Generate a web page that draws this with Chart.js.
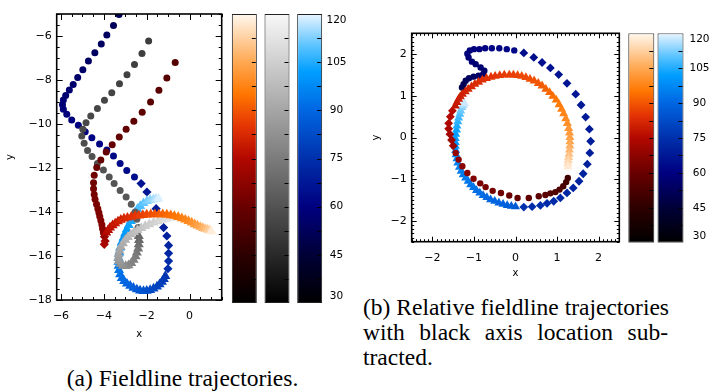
<!DOCTYPE html>
<html>
<head>
<meta charset="utf-8">
<script src="https://cdn.jsdelivr.net/npm/chart.js@4.4.1/dist/chart.umd.min.js"></script>
<style>
body { margin: 0; background: #fff; }
#wrap { position: relative; width: 726px; height: 391px; overflow: hidden; background: #fff; }
canvas { position: absolute; }
.cap { position: absolute; font-family: "Liberation Serif", "Times New Roman", serif; font-size: 23.5px; line-height: 25px; color: #000; white-space: nowrap; }
</style>
</head>
<body>
<div id="wrap">
  <canvas id="plotA" width="230" height="344" style="left:0px;top:0px"></canvas>
  <canvas id="cbarA" width="140" height="320" style="left:220px;top:0px"></canvas>
  <canvas id="plotB" width="262" height="283" style="left:366px;top:0px"></canvas>
  <canvas id="cbarB" width="106" height="260" style="left:620px;top:0px"></canvas>
  <div class="cap" style="left:66.7px;top:366px">(a) Fieldline trajectories.</div>
  <div class="cap" style="left:363px;top:295px">(b) Relative fieldline trajectories</div>
  <div class="cap" style="left:363px;top:320px;width:305px;white-space:normal;text-align:justify;text-align-last:justify">with black axis location sub-</div>
  <div class="cap" style="left:363px;top:345px">tracted.</div>
</div>
<script>
Chart.defaults.font.family = '"DejaVu Sans", sans-serif';
Chart.defaults.color = '#000';
Chart.defaults.animation = false;

// axis ticks
const xTicksA = [-6, -4, -2, 0];
const yTicksA = [-18, -16, -14, -12, -10, -8, -6];
const xTicksB = [-2, -1, 0, 1, 2];
const yTicksB = [-2, -1, 0, 1, 2];
const cbarTicks = [30, 45, 60, 75, 90, 105, 120];
const cbarRange = [30, 120];
const cbarMinor = 7.5;

// (a) trajectories: [x, y, time]
const redA_circ = [[-0.67,-7.21,55],[-1.06,-7.91,55.5],[-1.43,-8.47,56],[-1.82,-9.00,56.5],[-2.21,-9.47,57],
  [-2.60,-9.88,57.5],[-2.96,-10.24,58],[-3.28,-10.59,58.5],[-3.61,-10.94,59],[-3.89,-11.27,59.5],
  [-4.14,-11.64,60],[-4.33,-11.98,60.5],[-4.45,-12.33,61],[-4.48,-12.67,61.5],[-4.48,-12.94,62],
  [-4.45,-13.20,62.5],[-4.41,-13.42,63],[-4.34,-13.65,63.5],[-4.28,-13.85,64],[-4.23,-14.03,64.5],
  [-4.19,-14.21,65],[-4.14,-14.39,65.5],[-4.09,-14.58,66],[-4.06,-14.76,66.5],[-4.02,-14.94,67]];
const redA_diam = [[-3.97,-15.12,69],[-3.94,-15.32,71],[-3.98,-15.47,73]];
const redA_tri = [[-3.89,-14.94,75],[-3.80,-14.82,76],[-3.71,-14.71,77],[-3.59,-14.61,78],[-3.47,-14.52,79],
  [-3.34,-14.43,80],[-3.21,-14.36,81],[-3.06,-14.30,82],[-2.90,-14.26,83],[-2.72,-14.22,84],
  [-2.54,-14.18,85],[-2.36,-14.16,86],[-2.18,-14.14,87],[-2.00,-14.12,88],[-1.81,-14.11,89],
  [-1.62,-14.11,90],[-1.43,-14.11,91],[-1.25,-14.11,92],[-1.06,-14.12,93],[-0.88,-14.15,94],
  [-0.71,-14.18,95],[-0.53,-14.23,96],[-0.36,-14.29,97],[-0.20,-14.35,98],[-0.05,-14.41,99],
  [0.10,-14.48,100.5],[0.24,-14.56,102],[0.37,-14.62,103.5],[0.50,-14.68,105],[0.62,-14.73,107],
  [0.73,-14.77,109],[0.84,-14.80,111],[0.94,-14.83,113],[1.01,-14.88,118]];

const greyA_circ = [[-1.91,-6.23,52],[-2.22,-6.79,52.5],[-2.57,-7.29,53],[-2.92,-7.76,53.5],[-3.27,-8.17,54],
  [-3.63,-8.58,54.5],[-3.97,-8.92,55],[-4.30,-9.29,55.5],[-4.61,-9.64,56],[-4.83,-9.94,56.5],
  [-4.98,-10.24,57],[-5.03,-10.55,57.5],[-4.92,-10.88,58],[-4.76,-11.20,58.5],[-4.55,-11.48,59],
  [-4.30,-11.79,59.5],[-4.02,-12.09,60],[-3.75,-12.41,60.5],[-3.52,-12.70,61],[-3.24,-13.02,61.5],
  [-2.96,-13.32,62],[-2.72,-13.65,62.5],[-2.54,-14.00,63],[-2.46,-14.33,63.5],[-2.40,-14.71,64]];
const greyA_tri = [[-2.37,-15.09,67],[-2.36,-15.28,68.5],[-2.37,-15.47,70],[-2.40,-15.66,71.5],[-2.46,-15.85,73],
  [-2.52,-16.02,74.5],[-2.61,-16.18,76],[-2.72,-16.32,77.5],[-2.85,-16.42,79],[-2.98,-16.46,80.5],
  [-3.11,-16.45,82],[-3.22,-16.36,83.5],[-3.30,-16.23,85],[-3.33,-16.08,86.5],[-3.31,-15.92,88],
  [-3.27,-15.75,89.5],[-3.21,-15.58,91],[-3.11,-15.42,92.5],[-3.00,-15.27,94],[-2.88,-15.14,95.5],
  [-2.74,-15.02,97],[-2.59,-14.91,98.5],[-2.43,-14.82,100],[-2.25,-14.73,101.5],[-2.07,-14.64,103],
  [-1.88,-14.56,104.5],[-1.68,-14.48,106],[-1.48,-14.42,107.5],[-1.29,-14.36,109],[-1.10,-14.31,110.5],
  [-0.90,-14.27,112],[-0.70,-14.24,113.5],[-0.51,-14.21,115]];

const blueA_circ = [[-3.29,-5.02,52],[-3.55,-5.52,52.5],[-3.86,-5.95,53],[-4.12,-6.36,53.5],[-4.42,-6.76,54],
  [-4.72,-7.14,54.5],[-4.98,-7.53,55],[-5.22,-7.89,55.5],[-5.43,-8.20,56],[-5.61,-8.45,56.5],
  [-5.78,-8.70,57],[-5.89,-8.91,57.5],[-5.93,-9.12,58],[-5.89,-9.33,58.5],[-5.73,-9.56,59],
  [-5.50,-9.82,59.5],[-5.19,-10.06,60],[-4.87,-10.35,60.5],[-4.56,-10.62,61],[-4.20,-10.91,61.5],
  [-3.86,-11.18,62],[-3.55,-11.45,62.5],[-3.24,-11.79,63],[-2.93,-12.11,63.5],[-2.57,-12.41,64]];
const blueA_diam = [[-2.26,-12.71,66],[-1.99,-13.09,67],[-1.56,-13.85,68],[-1.21,-14.71,69],[-1.06,-15.09,70],
  [-0.98,-15.52,71],[-0.98,-15.88,72],[-0.98,-16.23,73],[-1.01,-16.58,74]];
const blueA_tri = [[-1.13,-16.91,76],[-1.20,-17.05,77],[-1.29,-17.18,78],[-1.40,-17.29,79],[-1.52,-17.39,80],
  [-1.68,-17.48,81],[-1.84,-17.55,82],[-2.00,-17.58,83],[-2.15,-17.59,84],[-2.31,-17.57,85],
  [-2.46,-17.52,86],[-2.62,-17.45,87],[-2.77,-17.36,88],[-2.92,-17.26,89],[-3.05,-17.14,90],
  [-3.16,-17.00,91],[-3.24,-16.83,92],[-3.29,-16.64,93],[-3.31,-16.45,94],[-3.32,-16.27,95],
  [-3.31,-16.08,96],[-3.28,-15.85,97],[-3.24,-15.62,98],[-3.17,-15.39,99],[-3.08,-15.17,100],
  [-3.01,-14.98,101],[-2.93,-14.79,102],[-2.84,-14.60,103],[-2.74,-14.41,104],[-2.64,-14.22,105],
  [-2.54,-14.03,106],[-2.43,-13.87,107.5],[-2.30,-13.73,109],[-2.15,-13.60,110.5],[-1.99,-13.50,112],
  [-1.84,-13.45,113.5],[-1.68,-13.42,115],[-1.56,-13.40,117],[-1.45,-13.39,119]];

// (b) trajectories relative to the black axis: [x, y, time]
const redB_circ = [[1.26,-0.97,50],[1.22,-1.07,51],[1.15,-1.17,52],[1.06,-1.25,53],[0.96,-1.31,54],
  [0.84,-1.34,55],[0.72,-1.38,56],[0.56,-1.41,57],[0.32,-1.45,58],[0.05,-1.45,59],
  [-0.15,-1.39,60],[-0.35,-1.33,61],[-0.55,-1.28,62],[-0.72,-1.19,63],[-0.85,-1.10,64],
  [-1.01,-0.99,65],[-1.16,-0.85,66],[-1.28,-0.69,67],[-1.37,-0.53,68],[-1.44,-0.37,69]];
const redB_diam = [[-1.50,-0.20,70],[-1.54,-0.06,71],[-1.58,0.08,72],[-1.61,0.21,73],[-1.61,0.34,74],
  [-1.57,0.50,75],[-1.52,0.64,76]];
const redB_tri = [[-1.45,0.76,78],[-1.41,0.84,79],[-1.37,0.92,79.5],[-1.33,0.98,80],[-1.28,1.04,80.5],
  [-1.21,1.10,81],[-1.14,1.16,81.5],[-1.06,1.22,82],[-0.98,1.28,82.5],[-0.89,1.33,83],
  [-0.80,1.38,83.5],[-0.70,1.42,84],[-0.59,1.45,84.5],[-0.49,1.47,85],[-0.38,1.49,85.5],
  [-0.27,1.50,86],[-0.15,1.50,86.5],[-0.05,1.50,87],[0.05,1.49,87.5],[0.15,1.47,88],
  [0.25,1.44,88.5],[0.35,1.40,89],[0.45,1.36,89.5],[0.55,1.30,90],[0.64,1.24,91],
  [0.73,1.16,92],[0.82,1.08,93],[0.90,0.99,94],[0.98,0.90,95],[1.05,0.79,96],
  [1.11,0.68,97],[1.16,0.57,98],[1.21,0.45,99],[1.25,0.34,100],[1.28,0.22,101],
  [1.30,0.11,102],[1.31,0.00,103],[1.31,-0.10,104.5],[1.31,-0.20,106],[1.30,-0.30,107.5],
  [1.29,-0.40,109],[1.28,-0.48,111],[1.27,-0.55,113],[1.26,-0.63,115],[1.26,-0.70,117]];

const blueB_circ = [[-1.29,1.20,50],[-1.25,1.28,51],[-1.20,1.36,52],[-1.12,1.42,53],[-1.01,1.46,54],
  [-0.89,1.48,55],[-0.78,1.52,55.5],[-0.75,1.60,56],[-0.84,1.68,56.5],[-0.96,1.76,57],
  [-1.05,1.82,57.5],[-1.13,1.92,58],[-1.16,2.01,58.5],[-1.10,2.09,59],[-1.00,2.12,59.5],
  [-0.87,2.12,60],[-0.73,2.14,60.5],[-0.57,2.14,61],[-0.39,2.14,61.5],[-0.21,2.12,62],[-0.03,2.09,62.5]];
const blueB_diam = [[0.20,2.03,64],[0.44,1.92,64.5],[0.64,1.80,65],[0.84,1.67,65.5],[1.04,1.51,66],
  [1.24,1.30,66.5],[1.45,1.04,67],[1.58,0.78,67.5],[1.69,0.49,68],[1.78,0.20,68.5],[1.81,-0.09,69],
  [1.79,-0.37,69.5],[1.73,-0.64,70],[1.63,-0.87,70.5],[1.53,-1.05,71],[1.39,-1.21,71.5],[1.24,-1.33,72],
  [1.08,-1.45,72.5],[0.92,-1.53,73],[0.76,-1.58,73.5],[0.60,-1.63,74],[0.40,-1.66,74.5],[0.20,-1.67,75]];
const blueB_tri = [[0.00,-1.66,86],[-0.10,-1.65,87],[-0.20,-1.63,88],[-0.30,-1.60,88.5],[-0.40,-1.57,89],
  [-0.50,-1.53,89.5],[-0.60,-1.49,90],[-0.69,-1.44,90.5],[-0.78,-1.39,91],[-0.86,-1.33,91.5],
  [-0.94,-1.27,92],[-1.01,-1.20,92.5],[-1.08,-1.13,93],[-1.14,-1.05,93.5],[-1.20,-0.97,94],
  [-1.26,-0.89,94.5],[-1.31,-0.81,95],[-1.35,-0.71,95.5],[-1.39,-0.61,96],[-1.41,-0.51,96.5],
  [-1.43,-0.41,97],[-1.44,-0.31,98],[-1.45,-0.21,99],[-1.45,-0.12,100],[-1.45,-0.02,101],
  [-1.44,0.08,102],[-1.42,0.18,103],[-1.41,0.28,104.5],[-1.39,0.38,106],[-1.37,0.47,107.5],
  [-1.34,0.56,109],[-1.32,0.64,111],[-1.29,0.72,113],[-1.26,0.77,115.5],[-1.23,0.82,118]];

// colour tables: [value, r, g, b]
const cmapOrange = [[30,0,0,0],[45,45,0,0],[60,105,0,0],[75,178,8,0],[85,228,52,4],[95,255,118,0],[105,255,168,82],[120,255,248,238]];
const cmapGrey = [[30,0,0,0],[120,248,248,248]];
const cmapBlue = [[30,0,0,0],[45,0,0,55],[60,0,0,128],[75,0,48,172],[90,0,102,226],[102,0,158,255],[110,90,195,255],[120,232,244,255]];

function cmapColor(cmap, t) {
  if (t <= cmap[0][0]) return 'rgb(' + cmap[0].slice(1).join(',') + ')';
  for (let i = 1; i < cmap.length; i++) {
    const a = cmap[i - 1], b = cmap[i];
    if (t <= b[0]) {
      const f = (t - a[0]) / (b[0] - a[0]);
      const c = [1, 2, 3].map(k => Math.round(a[k] + (b[k] - a[k]) * f));
      return 'rgb(' + c.join(',') + ')';
    }
  }
  return 'rgb(' + cmap[cmap.length - 1].slice(1).join(',') + ')';
}

function buildTrack(circ, diam, tri) {
  const pts = [];
  circ.forEach(p => pts.push({x: p[0], y: p[1], t: p[2], m: 'circle'}));
  diam.forEach(p => pts.push({x: p[0], y: p[1], t: p[2], m: 'rectRot'}));
  tri.forEach(p => pts.push({x: p[0], y: p[1], t: p[2], m: 'triangle'}));
  return pts;
}

function trackSet(pts, cmap, sizes) {
  return {
    data: pts,
    showLine: false,
    clip: 0,
    pointStyle: c => c.raw ? c.raw.m : 'circle',
    pointRadius: c => c.raw ? sizes[c.raw.m] : 3,
    pointHoverRadius: c => c.raw ? sizes[c.raw.m] : 3,
    pointBackgroundColor: c => c.raw ? cmapColor(cmap, c.raw.t) : '#000',
    pointBorderWidth: 0
  };
}

const fmtTick = v => (v < 0 ? '\u2212' : '') + Math.abs(v);

// box with inward major/minor ticks on all four sides
const frameTicks = {
  id: 'frameTicks',
  afterDatasetsDraw(chart, args, o) {
    const {ctx, chartArea: a} = chart;
    const sx = chart.scales.x, sy = chart.scales.y;
    const marks = (min, max, minor, major, cb) => {
      for (let i = Math.ceil(min / minor - 1e-6); i * minor <= max + 1e-6; i++) {
        const v = i * minor, r = v / major;
        cb(v, Math.abs(r - Math.round(r)) < 1e-6 ? o.majorLen : o.minorLen);
      }
    };
    ctx.save();
    ctx.strokeStyle = '#000';
    ctx.lineWidth = 1;
    ctx.beginPath();
    marks(sx.min, sx.max, o.xMinor, o.xMajor, (v, len) => {
      const p = Math.round(sx.getPixelForValue(v)) + 0.5;
      ctx.moveTo(p, a.bottom); ctx.lineTo(p, a.bottom - len);
      ctx.moveTo(p, a.top); ctx.lineTo(p, a.top + len);
    });
    marks(sy.min, sy.max, o.yMinor, o.yMajor, (v, len) => {
      const p = Math.round(sy.getPixelForValue(v)) + 0.5;
      ctx.moveTo(a.left, p); ctx.lineTo(a.left + len, p);
      ctx.moveTo(a.right, p); ctx.lineTo(a.right - len, p);
    });
    ctx.stroke();
    ctx.lineWidth = 1.6;
    ctx.strokeRect(a.left, a.top, a.right - a.left, a.bottom - a.top);
    ctx.restore();
  }
};

function makePlot(id, sets, cfg) {
  return new Chart(document.getElementById(id), {
    type: 'scatter',
    data: { datasets: sets },
    plugins: [frameTicks],
    options: {
      responsive: false,
      devicePixelRatio: 1,
      events: [],
      layout: { padding: cfg.pad },
      plugins: {
        legend: { display: false },
        tooltip: { enabled: false },
        frameTicks: cfg.frame
      },
      scales: {
        x: {
          type: 'linear', min: cfg.xr[0], max: cfg.xr[1],
          grid: { display: false, drawTicks: false },
          border: { display: false },
          afterBuildTicks: s => { s.ticks = cfg.xt.map(v => ({value: v})); },
          afterFit: s => { s.height = cfg.xh; },
          ticks: { padding: 10, autoSkip: false, maxRotation: 0, callback: fmtTick, font: { size: 11 } },
          title: { display: true, text: 'x', font: { size: 10 }, padding: { top: 0, bottom: 4 } }
        },
        y: {
          type: 'linear', min: cfg.yr[0], max: cfg.yr[1],
          grid: { display: false, drawTicks: false },
          border: { display: false },
          afterBuildTicks: s => { s.ticks = cfg.yt.map(v => ({value: v})); },
          afterFit: s => { s.width = cfg.yw; },
          ticks: { padding: 5, autoSkip: false, callback: fmtTick, font: { size: 11 } },
          title: { display: true, text: 'y', font: { size: 10 }, padding: { top: 4, bottom: 0 } }
        }
      }
    }
  });
}

const cbarTickMarks = {
  id: 'cbarTickMarks',
  afterDatasetsDraw(chart) {
    const ys = chart.scales.y, ctx = chart.ctx;
    ctx.save();
    ctx.strokeStyle = '#000';
    ctx.lineWidth = 1;
    ctx.beginPath();
    chart.getDatasetMeta(0).data.forEach(b => {
      const right = b.x + b.width / 2;
      for (let v = cbarRange[0] + cbarMinor; v < cbarRange[1] - 1e-6; v += cbarMinor) {
        const p = Math.round(ys.getPixelForValue(v)) + 0.5;
        ctx.moveTo(right - 1, p); ctx.lineTo(right - 5, p);
      }
    });
    ctx.stroke();
    ctx.restore();
  }
};

function makeCbar(id, cmaps, cfg) {
  return new Chart(document.getElementById(id), {
    type: 'bar',
    data: {
      labels: cmaps.map((c, i) => 'c' + i),
      datasets: [{
        data: cmaps.map(() => cbarRange.slice()),
        backgroundColor: c => {
          const ch = c.chart;
          if (!ch.chartArea) return '#000';
          const ys = ch.scales.y;
          const g = ch.ctx.createLinearGradient(0, ys.getPixelForValue(cbarRange[0]), 0, ys.getPixelForValue(cbarRange[1]));
          cmaps[c.dataIndex].forEach(s => g.addColorStop((s[0] - cbarRange[0]) / (cbarRange[1] - cbarRange[0]), 'rgb(' + s.slice(1).join(',') + ')'));
          return g;
        },
        borderColor: '#222',
        borderWidth: 1,
        borderSkipped: false,
        barPercentage: cfg.barPct,
        categoryPercentage: 1
      }]
    },
    plugins: [cbarTickMarks],
    options: {
      responsive: false,
      devicePixelRatio: 1,
      events: [],
      layout: { padding: cfg.pad },
      plugins: { legend: { display: false }, tooltip: { enabled: false } },
      scales: {
        x: { display: false },
        y: {
          position: 'right', min: cbarRange[0], max: cbarRange[1],
          grid: { display: false, drawTicks: false },
          border: { display: false },
          afterBuildTicks: s => { s.ticks = cbarTicks.map(v => ({value: v})); },
          afterFit: s => { s.width = 30; },
          ticks: {
            padding: cfg.labelPad, crossAlign: 'center', font: { size: 10.5 },
            callback: v => v === cbarRange[1] ? ['', String(v)] : (v === cbarRange[0] ? [String(v), ''] : String(v))
          }
        }
      }
    }
  });
}

const sizeA = { circle: 3.5, rectRot: 4.6, triangle: 5.8 };
const sizeB = { circle: 3.2, rectRot: 4.4, triangle: 5.2 };

makePlot('plotA', [
  trackSet(buildTrack(redA_circ, redA_diam, redA_tri), cmapOrange, sizeA),
  trackSet(buildTrack(greyA_circ, [], greyA_tri), cmapGrey, sizeA),
  trackSet(buildTrack(blueA_circ, blueA_diam, blueA_tri), cmapBlue, sizeA)
], {
  xr: [-6.2, 1.5], yr: [-18, -5], xt: xTicksA, yt: yTicksA,
  xh: 44, yw: 56.7,
  pad: { left: 0, right: 8.3, top: 14, bottom: 0 },
  frame: { xMajor: 2, xMinor: 0.5, yMajor: 2, yMinor: 0.5, majorLen: 6, minorLen: 3 }
});

makePlot('plotB', [
  trackSet(buildTrack(redB_circ, redB_diam, redB_tri), cmapOrange, sizeB),
  trackSet(buildTrack(blueB_circ, blueB_diam, blueB_tri), cmapBlue, sizeB)
], {
  xr: [-2.5, 2.5], yr: [-2.5, 2.5], xt: xTicksB, yt: yTicksB,
  xh: 41.3, yw: 45.7,
  pad: { left: 0, right: 8.7, top: 33.3, bottom: 0 },
  frame: { xMajor: 1, xMinor: 0.1, yMajor: 1, yMinor: 0.1, majorLen: 5, minorLen: 2.5 }
});

makeCbar('cbarA', [cmapOrange, cmapGrey, cmapBlue], {
  barPct: 0.765, labelPad: 0.5,
  pad: { left: 8, right: 4, top: 14, bottom: 17 }
});

makeCbar('cbarB', [cmapOrange, cmapBlue], {
  barPct: 0.89, labelPad: 4.4,
  pad: { left: 6.7, right: 10.9, top: 33.3, bottom: 17.3 }
});
</script>
</body>
</html>
